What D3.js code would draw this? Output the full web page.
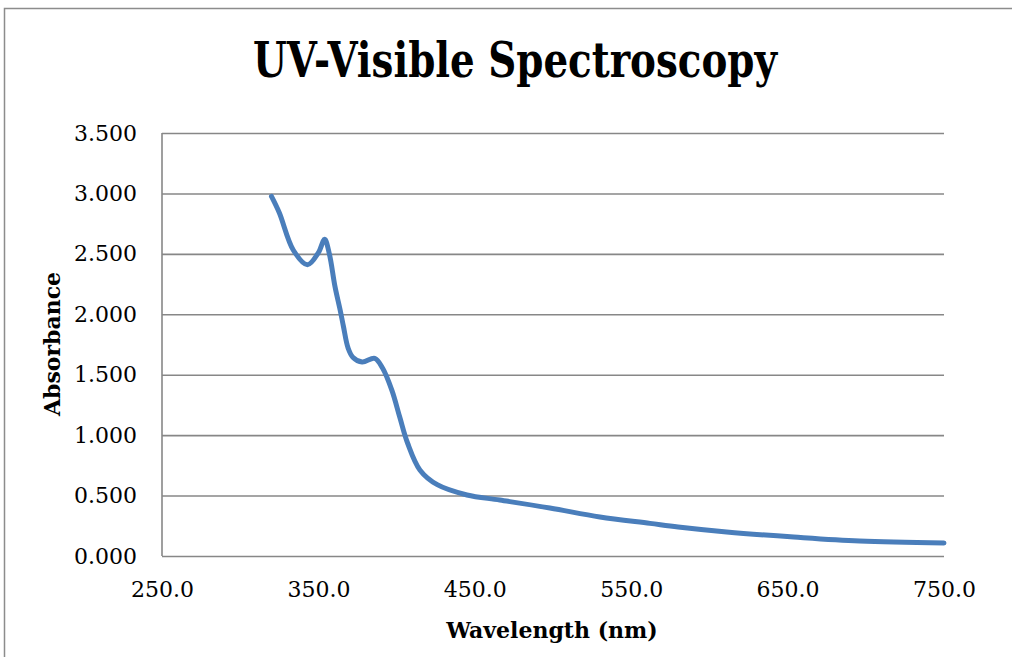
<!DOCTYPE html>
<html><head><meta charset="utf-8">
<script src="https://cdn.jsdelivr.net/npm/d3@7"></script>
<style>body{margin:0;background:#fff}svg{display:block}</style>
</head><body>
<svg id="c" width="1012" height="657"></svg>
<script>
const title = "UV-Visible Spectroscopy";
const xTitle = "Wavelength (nm)";
const yTitle = "Absorbance";
const xTicks = [250, 350, 450, 550, 650, 750];
const yTicks = [0, 0.5, 1.0, 1.5, 2.0, 2.5, 3.0, 3.5];
const wavelength = [320, 325, 334, 343, 350, 354, 357, 360.6, 364, 366, 369, 372, 378, 386, 391, 397, 402, 407, 415, 426, 445, 466, 498, 530, 562, 580, 611, 654, 696, 750];
const absorbance = [2.975, 2.84, 2.53, 2.41, 2.51, 2.62, 2.50, 2.23, 2.03, 1.90, 1.72, 1.645, 1.605, 1.635, 1.555, 1.37, 1.15, 0.935, 0.71, 0.59, 0.505, 0.463, 0.397, 0.323, 0.27, 0.24, 0.199, 0.157, 0.124, 0.108];

const svg = d3.select("#c");
const font = "'DejaVu Serif', serif";
const L = 162, R = 944, T = 133, B = 556;
const x = d3.scaleLinear().domain([250, 750]).range([L, R]);
const y = d3.scaleLinear().domain([0, 3.5]).range([B, T]);

// outer border
svg.append("path").attr("d", "M4.5,657 L4.5,8.5 L1012,8.5").attr("fill", "none").attr("stroke", "#8c8c8c").attr("stroke-width", 1.5);

// gridlines
const yAxis = d3.axisLeft(y).tickValues(yTicks).tickSize(-(R - L)).tickFormat(d => d.toFixed(3)).tickPadding(25);
const gy = svg.append("g").attr("transform", `translate(${L},0)`).call(yAxis);
gy.select(".domain").remove();
gy.selectAll(".tick line").attr("stroke", "#878787").attr("stroke-width", 1.6);
gy.selectAll(".tick text").attr("font-family", font).attr("font-size", 22).attr("fill", "#000").attr("x", -25);

// left axis line
svg.append("line").attr("x1", L).attr("x2", L).attr("y1", T).attr("y2", B).attr("stroke", "#878787").attr("stroke-width", 1.6);

const xAxis = d3.axisBottom(x).tickValues(xTicks).tickSize(0).tickFormat(d => d.toFixed(1)).tickPadding(25);
const gx = svg.append("g").attr("transform", `translate(0,${B})`).call(xAxis);
gx.select(".domain").remove();
gx.selectAll(".tick text").attr("font-family", font).attr("font-size", 22).attr("fill", "#000");

// line
const line = d3.line().x((d, i) => x(wavelength[i])).y(d => y(d)).curve(d3.curveCatmullRom.alpha(0.5));
svg.append("path").datum(absorbance).attr("d", line).attr("fill", "none")
  .attr("stroke", "#4a7ebb").attr("stroke-width", 5).attr("stroke-linecap", "round").attr("stroke-linejoin", "round");

// titles
svg.append("text").attr("x", 515).attr("y", 77).attr("text-anchor", "middle")
  .attr("font-family", font).attr("font-weight", "bold").attr("font-size", 48)
  .attr("textLength", 524).attr("lengthAdjust", "spacingAndGlyphs").text(title);
svg.append("text").attr("x", 552).attr("y", 638).attr("text-anchor", "middle")
  .attr("font-family", font).attr("font-weight", "bold").attr("font-size", 22).text(xTitle);
svg.append("text").attr("transform", "translate(60,344) rotate(-90)").attr("text-anchor", "middle")
  .attr("font-family", font).attr("font-weight", "bold").attr("font-size", 22).text(yTitle);
</script>
</body></html>
